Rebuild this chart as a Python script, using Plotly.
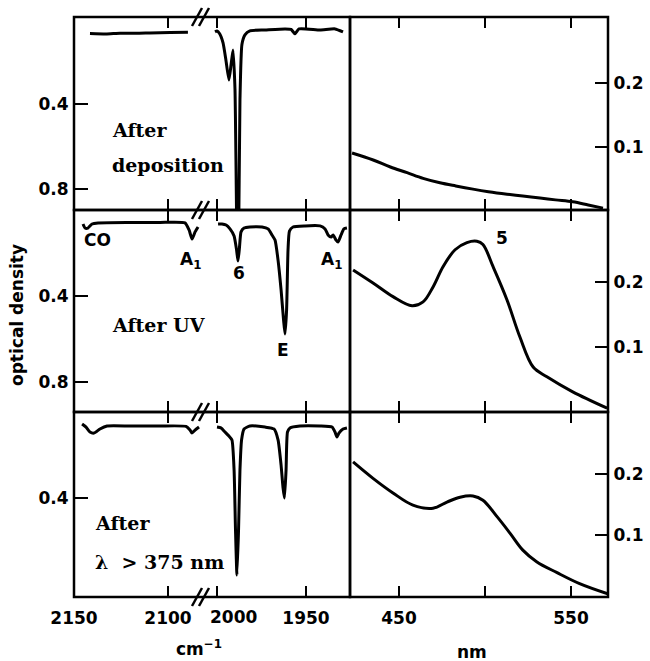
import plotly.graph_objects as go

W, H = 650, 661

# ---------------- data ----------------
# IR spectra (wavenumber cm-1, optical density) -- left segment (2150-2085) and right segment (2005-1925)
ir1_left_cm = [2141.5, 2133.0, 2125.5, 2117.0, 2109.6, 2098.9, 2089.4]
ir1_left_od = [0.069, 0.071, 0.067, 0.068, 0.066, 0.064, 0.063]
ir1_right_cm = [2001.1, 2000.0, 1998.5, 1996.6, 1995.0, 1993.3, 1992.1, 1991.0, 1989.9,
                1988.3, 1987.1, 1986.0, 1984.3, 1981.5, 1973.0, 1961.8, 1958.4,
                1956.2, 1953.9, 1942.1, 1933.7, 1929.2]
ir1_right_od = [0.061, 0.057, 0.070, 0.113, 0.193, 0.287, 0.216, 0.146, 0.330,
                1.400, 0.380, 0.120, 0.075, 0.056, 0.052, 0.047, 0.049,
                0.070, 0.047, 0.052, 0.047, 0.061]

ir2_left_cm = [2145.2, 2144.1, 2142.6, 2140.4, 2137.2, 2120.2, 2104.3, 2091.0, 2088.8,
               2087.2, 2085.6, 2084.0]
ir2_left_od = [0.065, 0.084, 0.084, 0.065, 0.060, 0.058, 0.058, 0.060, 0.093,
               0.135, 0.102, 0.079]
ir2_right_cm = [1999.4, 1997.2, 1994.9, 1992.7, 1990.4, 1989.0, 1988.2, 1987.4, 1986.5,
                1984.8, 1981.5, 1974.7, 1971.3, 1969.1, 1967.4, 1965.7, 1964.0, 1962.6,
                1961.8, 1960.9, 1960.1, 1959.3, 1957.3, 1950.6, 1942.1, 1939.3, 1937.6,
                1935.9, 1934.8, 1933.1, 1932.0, 1930.3, 1928.7, 1927.0]
ir2_right_od = [0.065, 0.065, 0.070, 0.088, 0.121, 0.186, 0.237, 0.177, 0.102,
                0.084, 0.079, 0.079, 0.088, 0.116, 0.140, 0.233, 0.372, 0.512,
                0.577, 0.465, 0.186, 0.098, 0.079, 0.074, 0.074, 0.088, 0.116,
                0.126, 0.116, 0.140, 0.149, 0.116, 0.088, 0.084]

ir3_left_cm = [2145.7, 2143.6, 2141.5, 2139.4, 2136.2, 2132.4, 2120.2, 2104.3, 2090.4,
               2088.3, 2087.2, 2085.6, 2083.5]
ir3_left_od = [0.056, 0.070, 0.093, 0.098, 0.079, 0.065, 0.065, 0.065, 0.067,
               0.084, 0.098, 0.084, 0.070]
ir3_right_cm = [2000.0, 1997.8, 1995.5, 1993.3, 1991.6, 1990.4, 1989.6, 1988.8, 1987.9,
                1987.1, 1986.2, 1984.8, 1981.5, 1973.0, 1968.0, 1965.7, 1964.0, 1962.9,
                1962.1, 1961.2, 1960.4, 1959.0, 1953.4, 1942.1, 1935.4, 1933.7, 1932.6,
                1931.5, 1929.2, 1927.0]
ir3_right_od = [0.070, 0.074, 0.093, 0.112, 0.130, 0.270, 0.549, 0.758, 0.549,
                0.270, 0.130, 0.079, 0.065, 0.070, 0.079, 0.130, 0.247, 0.353,
                0.400, 0.270, 0.093, 0.074, 0.065, 0.065, 0.070, 0.093, 0.116,
                0.098, 0.079, 0.074]

# UV-vis spectra (nm, optical density)
uv1_nm = [422.7, 435.0, 445.0, 454.7, 464.0, 473.8, 483.0, 493.0, 502.0, 512.8, 522.0,
          532.0, 541.0, 551.0, 560.0, 568.6]
uv1_od = [0.090, 0.079, 0.068, 0.059, 0.050, 0.043, 0.038, 0.033, 0.029, 0.025, 0.022,
          0.019, 0.016, 0.013, 0.008, 0.003]

uv2_nm = [423.3, 434.9, 446.5, 457.6, 464.0, 469.8, 475.6, 482.6, 489.5, 495.3, 498.8,
          504.7, 512.8, 520.3, 528.0, 536.0, 551.0, 571.0]
uv2_od = [0.218, 0.198, 0.177, 0.163, 0.169, 0.192, 0.223, 0.249, 0.260, 0.262, 0.257,
          0.223, 0.172, 0.115, 0.069, 0.054, 0.031, 0.006]

uv3_nm = [423.3, 434.9, 446.5, 458.1, 469.8, 477.9, 485.5, 493.0, 498.8, 507.0, 514.5,
          522.0, 530.0, 541.9, 555.0, 572.7]
uv3_od = [0.220, 0.193, 0.169, 0.149, 0.144, 0.154, 0.162, 0.164, 0.157, 0.130, 0.103,
          0.075, 0.056, 0.038, 0.020, 0.002]

ir_left_ticks = [2150, 2100]
ir_left_ticktext = ["2150", "2100"]
ir_right_ticks = [1950]
ir_right_ticktext = ["1950"]
ir_right_minor = [2000]          # tick whose label ("2000") is set beside it
ir_right_minor_label = "2000"
uv_ticks = [450, 550]
uv_ticktext = ["450", "550"]
uv_minor = [500]
od_ticks = [0.4, 0.8]
uv_od_ticks = [0.1, 0.2]

row_titles = [["After", "deposition"], ["After UV"], ["After", "λ\u00a0\u00a0>\u00a0375\u00a0nm"]]

# ---------------- layout helpers ----------------
def px(x):
    return x / W

def py(y):
    return 1 - y / H

SANS = "DejaVu Sans"
SERIF = "DejaVu Serif"
tickfont = dict(family=SANS, size=17, color="black", weight="bold")

rows_px = [(17, 210), (210, 412), (412, 597)]
xl_dom = [px(74), px(200)]
xr_dom = [px(207), px(350)]
xu_dom = [px(350), px(608)]
xl_range = [2150, 2150 - (200 - 74) / 1.88]
xr_range = [2000 + (217 - 207) / 1.78, 2000 - (350 - 217) / 1.78]
xu_range = [450 - (399 - 350) / 1.72, 450 + (608 - 399) / 1.72]
ir_yranges = [[0.899, -0.009], [0.94, 0.0], [0.86, 0.0]]
uv_yranges = [[0.0, 0.305], [0.0, 0.31], [-0.002, 0.302]]

ir_data = [
    (ir1_left_cm, ir1_left_od, ir1_right_cm, ir1_right_od),
    (ir2_left_cm, ir2_left_od, ir2_right_cm, ir2_right_od),
    (ir3_left_cm, ir3_left_od, ir3_right_cm, ir3_right_od),
]
uv_data = [(uv1_nm, uv1_od), (uv2_nm, uv2_od), (uv3_nm, uv3_od)]

fig = go.Figure()
layout = {}
ir_line = dict(color="black", width=3, shape="spline", smoothing=0.5)
uv_line = dict(color="black", width=3, shape="spline", smoothing=1.0)

def ax_name(kind, n):
    return kind if n == 1 else f"{kind}{n}"

for r in range(3):
    top, bot = rows_px[r]
    ydom = [py(bot), py(top)]
    nxl, nxr, nxu = 3 * r + 1, 3 * r + 2, 3 * r + 3
    nyi, nyu = 2 * r + 1, 2 * r + 2
    xl, xr, xu = f"x{nxl}", f"x{nxr}", f"x{nxu}"
    yi, yu = f"y{nyi}", f"y{nyu}"
    if nxl == 1:
        xl = "x"
    if nyi == 1:
        yi = "y"
    lcm, lod, rcm, rod = ir_data[r]
    fig.add_trace(go.Scatter(x=lcm, y=lod, xaxis=xl, yaxis=yi, mode="lines", line=ir_line))
    fig.add_trace(go.Scatter(x=rcm, y=rod, xaxis=xr, yaxis=yi, mode="lines", line=ir_line))
    unm, uod = uv_data[r]
    fig.add_trace(go.Scatter(x=unm, y=uod, xaxis=xu, yaxis=yu, mode="lines", line=uv_line))

    bottom = (r == 2)
    common_x = dict(showline=True, linecolor="rgba(0,0,0,0)", linewidth=2, mirror="ticks",
                    ticks="inside", ticklen=11, tickwidth=2.2, tickcolor="black",
                    showgrid=False, zeroline=False, tickfont=tickfont, automargin=False,
                    showticklabels=bottom, ticklabelstandoff=5)
    minor = lambda vals: dict(tickmode="array", tickvals=vals, ticks="inside", ticklen=11,
                              tickwidth=2.2, tickcolor="black", showgrid=False)
    layout[ax_name("xaxis", nxl)] = dict(common_x, domain=xl_dom, range=xl_range, anchor=yi,
                                        tickmode="array", tickvals=ir_left_ticks,
                                        ticktext=ir_left_ticktext)
    layout[ax_name("xaxis", nxr)] = dict(common_x, domain=xr_dom, range=xr_range, anchor=yi,
                                        tickmode="array", tickvals=ir_right_ticks,
                                        ticktext=ir_right_ticktext, minor=minor(ir_right_minor))
    layout[ax_name("xaxis", nxu)] = dict(common_x, domain=xu_dom, range=xu_range, anchor=yu,
                                        tickmode="array", tickvals=uv_ticks,
                                        ticktext=uv_ticktext, minor=minor(uv_minor))
    ivals = od_ticks if r < 2 else od_ticks[:1]
    layout[ax_name("yaxis", nyi)] = dict(domain=ydom, range=ir_yranges[r], anchor=xl,
                                        showline=True, linecolor="rgba(0,0,0,0)", linewidth=2,
                                        ticks="inside", ticklen=14, tickwidth=2.2,
                                        tickcolor="black", showgrid=False, zeroline=False,
                                        tickfont=tickfont, tickmode="array", automargin=False,
                                        tickvals=ivals, ticktext=[f"{v:.1f}" for v in ivals])
    layout[ax_name("yaxis", nyu)] = dict(domain=ydom, range=uv_yranges[r], anchor=xu, side="right",
                                        showline=True, linecolor="rgba(0,0,0,0)", linewidth=2,
                                        ticks="inside", ticklen=13, tickwidth=2.2,
                                        tickcolor="black", showgrid=False, zeroline=False,
                                        tickfont=tickfont, tickmode="array", automargin=False,
                                        tickvals=uv_od_ticks,
                                        ticktext=[f"{v:.1f}" for v in uv_od_ticks])

# frames and axis-break marks
shapes = []
frame = dict(color="black", width=2.5)
for top, bot in rows_px:
    shapes.append(dict(type="rect", xref="paper", yref="paper", x0=px(74), x1=px(350),
                       y0=py(bot), y1=py(top), line=frame))
    shapes.append(dict(type="rect", xref="paper", yref="paper", x0=px(350), x1=px(608),
                       y0=py(bot), y1=py(top), line=frame))
for yb in [17, 210, 412, 597]:
    for x0 in [192, 199]:
        shapes.append(dict(type="line", xref="paper", yref="paper", x0=px(x0), y0=py(yb + 9),
                           x1=px(x0 + 10), y1=py(yb - 9), line=dict(color="black", width=2.5)))

ann = []
lab = dict(family=SANS, size=17, color="black", weight="bold")
ser = dict(family=SERIF, size=19, color="black", weight="bold")

def A(text, x, y, font, xanchor="center", **kw):
    ann.append(dict(text=text, x=px(x), y=py(y), xref="paper", yref="paper", showarrow=False,
                    font=font, xanchor=xanchor, yanchor="middle", **kw))

A("optical density", 17, 315, lab, textangle=-90)
A("cm<sup>\u22121</sup>", 199, 648, lab)
A("nm", 472, 652, lab)
A(ir_right_minor_label, 233, 617, tickfont)
# peak labels
A("CO", 97, 240, lab)
A("A<sub>1</sub>", 190, 260, lab)
A("6", 238.5, 273, lab)
A("E", 282.5, 350, lab)
A("A<sub>1</sub>", 331, 260, lab)
A("5", 502, 238, lab)
# row titles
A(row_titles[0][0], 110, 130, ser, xanchor="left")
A(row_titles[0][1], 110, 165, ser, xanchor="left")
A(row_titles[1][0], 110, 325, ser, xanchor="left")
A(row_titles[2][0], 93, 523, ser, xanchor="left")
A(row_titles[2][1], 93, 562, ser, xanchor="left")

fig.update_layout(**layout)
fig.update_layout(width=W, height=H, margin=dict(l=0, r=0, t=0, b=0, autoexpand=False),
                  paper_bgcolor="white", plot_bgcolor="white", showlegend=False,
                  shapes=shapes, annotations=ann)
fig.write_html("out.html")
